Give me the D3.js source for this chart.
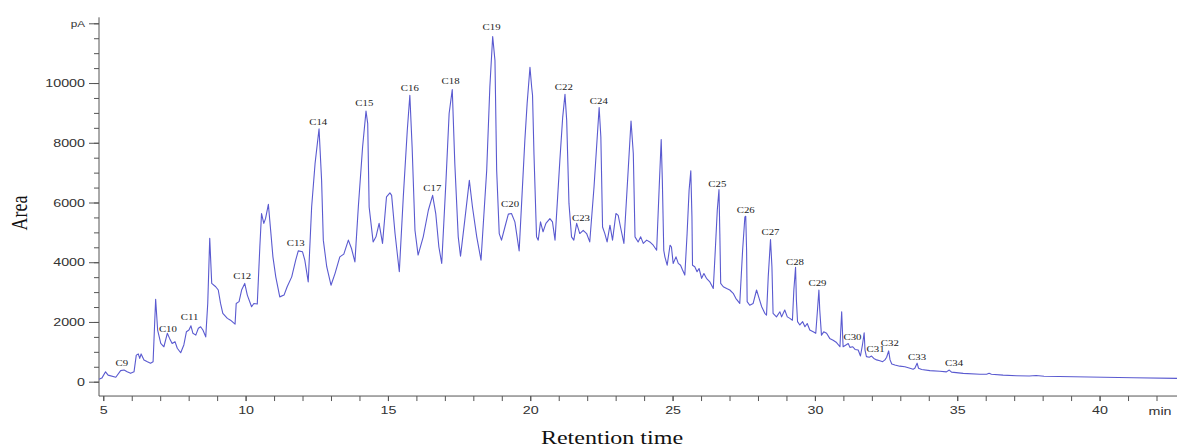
<!DOCTYPE html>
<html>
<head>
<meta charset="utf-8">
<script src="https://cdn.jsdelivr.net/npm/d3@7"></script>
<style>
  body { margin: 0; background: #fff; }
  svg { display: block; }
</style>
</head>
<body>
<svg id="chart" width="1177" height="448"></svg>
<script>
// retention time (min) and detector signal (pA)
var times = [
  4.85, 4.95, 5.08, 5.17, 5.44, 5.61, 5.73, 5.84, 5.96, 6.08,
  6.16, 6.23, 6.28, 6.33, 6.43, 6.55, 6.66, 6.75, 6.84, 6.91,
  7.02, 7.13, 7.25, 7.33, 7.42, 7.52, 7.60, 7.72, 7.83, 7.92,
  8.01, 8.08, 8.15, 8.25, 8.34, 8.42, 8.50, 8.60, 8.67, 8.74,
  8.81, 8.95, 9.04, 9.12, 9.20, 9.36, 9.47, 9.63, 9.67, 9.77,
  9.86, 9.97, 10.06, 10.21, 10.29, 10.41, 10.50, 10.56, 10.64, 10.70,
  10.80, 10.88, 10.96, 11.06, 11.20, 11.35, 11.46, 11.62, 11.76, 11.85,
  12.00, 12.08, 12.20, 12.32, 12.44, 12.58, 12.67, 12.73, 12.85, 13.00,
  13.14, 13.31, 13.45, 13.61, 13.72, 13.84, 13.96, 14.11, 14.23, 14.29,
  14.34, 14.48, 14.58, 14.69, 14.81, 14.95, 15.07, 15.13, 15.25, 15.40,
  15.54, 15.68, 15.77, 15.85, 15.95, 16.06, 16.24, 16.42, 16.57, 16.68,
  16.79, 16.89, 17.04, 17.15, 17.26, 17.35, 17.47, 17.55, 17.70, 17.86,
  17.97, 18.12, 18.27, 18.47, 18.58, 18.68, 18.76, 18.82, 18.91, 18.99,
  19.11, 19.23, 19.34, 19.46, 19.61, 19.81, 19.89, 19.99, 20.05, 20.08,
  20.13, 20.22, 20.28, 20.36, 20.45, 20.55, 20.69, 20.78, 20.87, 21.04,
  21.14, 21.22, 21.28, 21.36, 21.45, 21.53, 21.63, 21.74, 21.86, 21.98,
  22.09, 22.24, 22.33, 22.42, 22.48, 22.54, 22.62, 22.70, 22.80, 22.89,
  23.01, 23.09, 23.17, 23.29, 23.44, 23.54, 23.62, 23.68, 23.79, 23.88,
  23.97, 24.09, 24.20, 24.32, 24.44, 24.53, 24.60, 24.64, 24.69, 24.73,
  24.81, 24.91, 24.96, 25.02, 25.12, 25.20, 25.28, 25.35, 25.43, 25.51,
  25.58, 25.64, 25.68, 25.70, 25.78, 25.86, 25.93, 26.02, 26.10, 26.19,
  26.31, 26.43, 26.50, 26.57, 26.63, 26.66, 26.69, 26.78, 26.90, 27.01,
  27.13, 27.22, 27.36, 27.46, 27.54, 27.57, 27.60, 27.62, 27.71, 27.83,
  27.95, 28.04, 28.13, 28.24, 28.30, 28.36, 28.44, 28.49, 28.53, 28.65,
  28.77, 28.83, 28.94, 29.03, 29.12, 29.21, 29.26, 29.32, 29.35, 29.39,
  29.47, 29.57, 29.65, 29.73, 29.82, 29.94, 30.03, 30.09, 30.14, 30.17,
  30.23, 30.31, 30.41, 30.52, 30.64, 30.76, 30.88, 30.94, 30.99, 31.09,
  31.17, 31.23, 31.33, 31.41, 31.52, 31.60, 31.67, 31.73, 31.76, 31.81,
  31.91, 31.99, 32.07, 32.17, 32.28, 32.38, 32.46, 32.52, 32.59, 32.64,
  32.70, 32.81, 32.98, 33.16, 33.34, 33.45, 33.51, 33.59, 33.64, 33.75,
  34.04, 34.39, 34.62, 34.72, 34.80, 35.21, 35.80, 36.03, 36.12, 36.20,
  36.61, 37.08, 37.53, 37.77, 38.05, 41.19, 42.72
];
var signal = [
  80, 120, 330, 220, 150, 370, 390, 330, 280, 330,
  890, 930, 780, 930, 730, 670, 620, 670, 2760, 1730,
  1280, 1170, 1620, 1450, 1280, 1340, 1120, 970, 1230, 1670,
  1730, 1870, 1620, 1560, 1790, 1840, 1730, 1500, 2620, 4800,
  3290, 3180, 3070, 2620, 2290, 2120, 2060, 1930, 2620, 2680,
  3070, 3290, 2900, 2510, 2620, 2600, 4510, 5630, 5300, 5460,
  5940, 5070, 4180, 3510, 2840, 2900, 3180, 3510, 4070, 4380,
  4350, 4070, 3340, 5850, 7300, 8470, 6740, 4740, 3850, 3230,
  3620, 4180, 4270, 4740, 4460, 4010, 5850, 7860, 9060, 8640,
  5850, 4680, 4850, 5300, 4630, 6190, 6320, 6240, 4960, 3680,
  6190, 8420, 9590, 7860, 5070, 4240, 4850, 5740, 6240, 5630,
  4510, 3960, 6740, 8980, 9780, 7300, 4850, 4200, 5410, 6740,
  5850, 4850, 4070, 7080, 9860, 11560, 10760, 7080, 4960, 4740,
  5180, 5610, 5630, 5350, 4380, 8080, 9310, 10530, 9860, 9590,
  7640, 4850, 4740, 5350, 5020, 5300, 5460, 5350, 4740, 7410,
  8860, 9620, 8750, 5970, 4850, 4740, 5300, 4960, 5070, 4960,
  4680, 6520, 7860, 9180, 8190, 5180, 4960, 4680, 5240, 4740,
  5630, 5570, 5180, 4630, 7080, 8730, 7640, 4850, 4680, 4850,
  4630, 4740, 4680, 4570, 4400, 6520, 8110, 6740, 4400, 4180,
  3900, 4570, 4510, 3960, 4180, 3960, 3900, 3740, 3570, 4960,
  6410, 7060, 5520, 3900, 3850, 3680, 3790, 3460, 3620, 3460,
  3340, 3120, 4400, 5740, 6430, 4960, 3290, 3180, 3120, 3070,
  2960, 2790, 2620, 4400, 5520, 5540, 4400, 2680, 2560, 2620,
  3070, 2790, 2510, 2290, 2230, 3510, 4760, 3850, 2290, 2170,
  2340, 2170, 2400, 2170, 2120, 2060, 3070, 3830, 2730, 2010,
  1900, 2010, 1840, 1950, 1730, 1670, 1620, 2400, 3070, 2400,
  1560, 1670, 1620, 1450, 1390, 1310, 1170, 2340, 1170, 1230,
  1280, 1150, 1170, 1080, 1060, 860, 1230, 1640, 1060, 840,
  820, 860, 780, 730, 700, 670, 730, 820, 1030, 730,
  590, 560, 520, 500, 450, 420, 450, 620, 450, 410,
  370, 350, 330, 390, 320, 280, 250, 250, 280, 250,
  220, 200, 190, 210, 180, 130, 110
];

// peak labels and where they sit (time, signal)
var peakNames = ["C9", "C10", "C11", "C12", "C13", "C14", "C15", "C16", "C17", "C18",
  "C19", "C20", "C22", "C23", "C24", "C25", "C26", "C27", "C28", "C29",
  "C30", "C31", "C32", "C33", "C34"];
var peakTimes = [5.65, 7.27, 8.03, 9.88, 11.76, 12.55, 14.17, 15.77, 16.56, 17.20,
  18.64, 19.29, 21.18, 21.78, 22.41, 26.57, 27.57, 28.44, 29.30, 30.09,
  31.32, 32.13, 32.63, 33.59, 34.89];
var peakLabelY = [520, 1680, 2050, 3430, 4550, 8580, 9220, 9750, 6390, 9960,
  11760, 5860, 9770, 5390, 9290, 6530, 5660, 4910, 3920, 3200,
  1380, 980, 1180, 710, 510];

var xMajor = [5, 10, 15, 20, 25, 30, 35, 40];
var xMinor = d3.range(5, 43, 1);
var yMajor = [0, 2000, 4000, 6000, 8000, 10000, 12000];
var yMinor = d3.range(0, 12001, 500);

var svg = d3.select("#chart");

var x = d3.scaleLinear().domain([4.85, 42.72]).range([99, 1177]);
var y = d3.scaleLinear().domain([0, 12000]).range([381.7, 23.3]);

var axisColor = "#555";
var stretch = 1.3;

// squash/stretch axis text sideways like the original scan
function widen(sel, sx) {
  sel.each(function () {
    var t = d3.select(this);
    var tx = +t.attr("x") || 0;
    t.attr("transform", "translate(" + tx + ",0) scale(" + sx + ",1)").attr("x", 0);
  });
}

// y axis
var yAxisG = svg.append("g").attr("transform", "translate(99,0)");
yAxisG.call(d3.axisLeft(y).tickValues(yMinor).tickSize(5).tickFormat(""));
yAxisG.append("g").call(d3.axisLeft(y).tickValues(yMajor).tickSize(10).tickPadding(4)
  .tickFormat(function (d) { return d == 12000 ? "pA" : d; }));
yAxisG.selectAll(".domain").remove();
yAxisG.append("line")
  .attr("y1", y(12200)).attr("y2", y(-480))
  .attr("stroke", axisColor);
yAxisG.selectAll("line").attr("stroke", axisColor);
yAxisG.selectAll("text")
  .style("font-family", "'Liberation Sans', Arial, sans-serif")
  .style("font-size", "11px")
  .attr("fill", "#333")
  .call(widen, stretch);
yAxisG.selectAll("text").filter(function (d) { return d == 12000; })
  .style("font-size", "9px");

// x axis
var xAxisG = svg.append("g").attr("transform", "translate(0," + (y(-480)) + ")");
xAxisG.call(d3.axisBottom(x).tickValues(xMinor).tickSize(5).tickFormat(""));
xAxisG.append("g").call(d3.axisBottom(x).tickValues(xMajor).tickSize(5).tickPadding(5));
xAxisG.selectAll(".domain").remove();
xAxisG.append("line").attr("x1", 99).attr("x2", 1177).attr("stroke", axisColor);
xAxisG.selectAll("line").attr("stroke", axisColor);
xAxisG.selectAll("text")
  .style("font-family", "'Liberation Sans', Arial, sans-serif")
  .style("font-size", "11px")
  .attr("fill", "#333");
xAxisG.selectAll("text").each(function () {
  d3.select(this).attr("transform", "scale(" + stretch + ",1)").attr("x", 0);
});
xAxisG.append("text")
  .attr("transform", "translate(1160,19) scale(" + stretch + ",1)")
  .style("font-family", "'Liberation Sans', Arial, sans-serif")
  .style("font-size", "11px")
  .attr("fill", "#333")
  .text("min");

// the trace
var pts = times.map(function (t, i) { return [t, signal[i]]; });
svg.append("path")
  .datum(pts)
  .attr("fill", "none")
  .attr("stroke", "#5a5ad0")
  .attr("stroke-width", 1.1)
  .attr("stroke-linejoin", "round")
  .attr("d", d3.line()
    .x(function (d) { return x(d[0]); })
    .y(function (d) { return y(d[1]); }));

// peak labels
svg.append("g").selectAll("text")
  .data(peakNames)
  .join("text")
  .attr("transform", function (d, i) {
    return "translate(" + x(peakTimes[i]) + "," + y(peakLabelY[i]) + ") scale(1.2,1)";
  })
  .attr("text-anchor", "middle")
  .style("font-family", "'Liberation Serif', 'Times New Roman', serif")
  .style("font-size", "9px")
  .attr("fill", "#222")
  .text(function (d) { return d; });

// axis titles
svg.append("text")
  .attr("transform", "translate(612,444) scale(" + stretch + ",1)")
  .attr("text-anchor", "middle")
  .style("font-family", "'Liberation Serif', 'Times New Roman', serif")
  .style("font-size", "18.5px")
  .attr("fill", "#111")
  .text("Retention time");

svg.append("text")
  .attr("transform", "translate(27,213) rotate(-90) scale(1,1.25)")
  .attr("text-anchor", "middle")
  .style("font-family", "'Liberation Serif', 'Times New Roman', serif")
  .style("font-size", "18px")
  .attr("fill", "#111")
  .text("Area");
</script>
</body>
</html>
